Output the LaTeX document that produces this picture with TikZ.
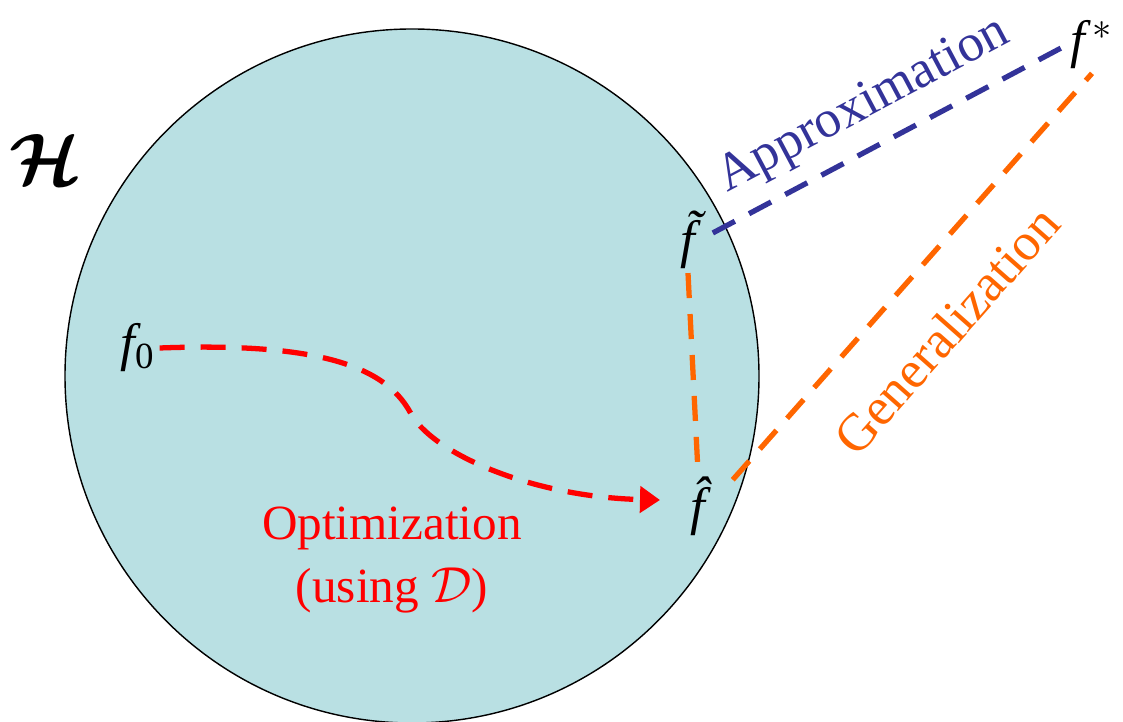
\documentclass[tikz,border=0pt]{standalone}
\usepackage{amsmath,amssymb,bm}
\usepackage{fontspec}
\setmainfont{Liberation Serif}
\usetikzlibrary{arrows.meta,calc}
\definecolor{hypspace}{RGB}{185,224,227}
\definecolor{approxblue}{RGB}{51,51,153}
\definecolor{genorange}{RGB}{255,102,0}
\definecolor{optred}{RGB}{255,0,0}
\tikzset{gap/.style={dash pattern=on 0.25cm off 0.16cm,line width=1.5pt},
 fnode/.style={inner sep=1pt,font=\fontsize{15}{18}\selectfont\itshape},
 slanted/.style={sloped,font=\fontsize{15}{18}\selectfont},
 every node/.style={font=\fontsize{14}{18}\selectfont}}

\begin{document}
\begin{tikzpicture}
\useasboundingbox (0,0) rectangle (11.23,7.22);
\clip (0,0) rectangle (11.23,7.22);
\filldraw[fill=hypspace,draw=black,thin] (4.12,3.46) circle (3.47);
\node (hlabel) at (0.45,5.62) {\fontsize{21}{24}\selectfont$\bm{\mathcal{H}}$};
\node[fnode] (f0) at (1.38,3.74) {f$_{\text{\upshape 0}}$};
\node[fnode] (ftilde) at (6.88,4.82) {\~{f}};
\node[fnode] (fhat) at (6.98,2.16) {\^{f}};
\node[fnode] (fstar) at (10.92,6.77) {f$^{\,*}$};
\draw[gap,approxblue,shorten <=0.15cm] (ftilde.east) -- (fstar.west)
 node[midway,above=1pt,slanted] {Approximation};
\draw[gap,genorange,shorten <=0.35cm] (fhat.east) -- (fstar.south)
 node[midway,below=8pt,slanted] {Generalization};
\draw[gap,genorange] (ftilde.south) -- (fhat.north);
\draw[gap,optred,-{Triangle[length=0.2cm,width=0.26cm]}] (f0.east)
 .. controls (3.2,3.80) and (3.85,3.55) .. (4.10,3.10)
 .. controls (4.30,2.70) and (5.3,2.25) .. (6.60,2.22);
\node[optred,align=center] (optlabel) at (3.92,1.62) {Optimization\\(using $\mathcal{D}$)};
\end{tikzpicture}
\end{document}
